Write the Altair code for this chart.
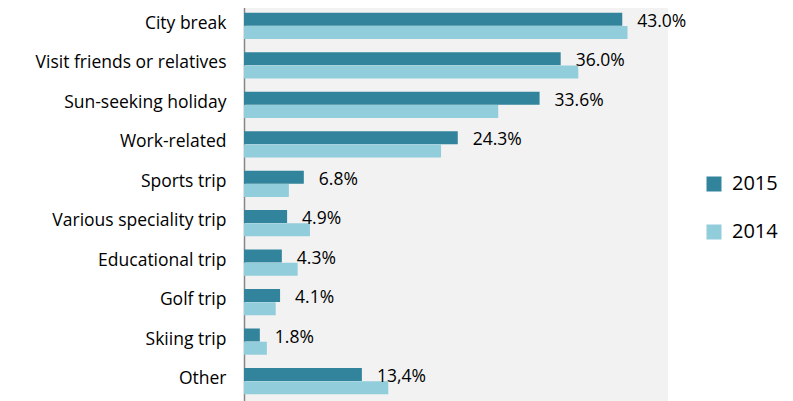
import altair as alt
import pandas as pd

categories = ["City break", "Visit friends or relatives", "Sun-seeking holiday",
              "Work-related", "Sports trip", "Various speciality trip",
              "Educational trip", "Golf trip", "Skiing trip", "Other"]
v2015 = [43.0, 36.0, 33.6, 24.3, 6.8, 4.9, 4.3, 4.1, 1.8, 13.4]
v2014 = [43.6, 38.0, 28.9, 22.4, 5.1, 7.5, 6.1, 3.6, 2.6, 16.4]
labels2015 = ["43.0%", "36.0%", "33.6%", "24.3%", "6.8%", "4.9%", "4.3%", "4.1%", "1.8%", "13,4%"]
series = ["2015", "2014"]
colors = ["#31849B", "#92CDDC"]

rows = []
for c, a, b, l in zip(categories, v2015, v2014, labels2015):
    rows.append({"cat": c, "series": "2015", "value": a, "label": l})
    rows.append({"cat": c, "series": "2014", "value": b, "label": ""})
df = pd.DataFrame(rows)

FONT = "Open Sans"

y_enc = alt.Y("cat:N", sort=categories,
              scale=alt.Scale(paddingInner=0.33, paddingOuter=0.17),
              axis=alt.Axis(title=None, ticks=False, labelFontSize=17.5, labelFont=FONT,
                            labelColor="#000000", labelPadding=18, labelOffset=-2,
                            domainColor="#868686", domainWidth=1.5, labelLimit=400))
x_enc = alt.X("value:Q", scale=alt.Scale(domain=[0, 48.2], nice=False),
              axis=None)

bars = alt.Chart(df).mark_bar(size=13).encode(
    y=y_enc,
    x=x_enc,
    yOffset=alt.YOffset("series:N", sort=series, scale=alt.Scale(paddingInner=0, paddingOuter=0)),
    color=alt.Color("series:N", sort=series,
                    scale=alt.Scale(domain=series, range=colors),
                    legend=alt.Legend(title=None, orient="none", legendX=460, legendY=168,
                                      symbolType="square", symbolSize=225,
                                      symbolStrokeWidth=0, labelFontSize=20,
                                      labelFont=FONT, labelColor="#000000",
                                      rowPadding=28, labelOffset=8)),
)

text = alt.Chart(df).transform_filter(alt.datum.series == "2015").mark_text(
    align="left", baseline="middle", dx=15, dy=-4, fontSize=17.5, font=FONT, color="#000000"
).encode(
    y=alt.Y("cat:N", sort=categories),
    x=x_enc,
    text="label:N",
)

chart = alt.layer(bars, text).properties(
    width=424, height=395,
    padding={"left": 236, "top": -2, "right": 117, "bottom": 0},
    autosize=alt.AutoSizeParams(type="none"),
).configure_view(fill="#F2F2F2", stroke=None)

chart.save("out.html", embed_options={"renderer": "svg", "actions": False})
